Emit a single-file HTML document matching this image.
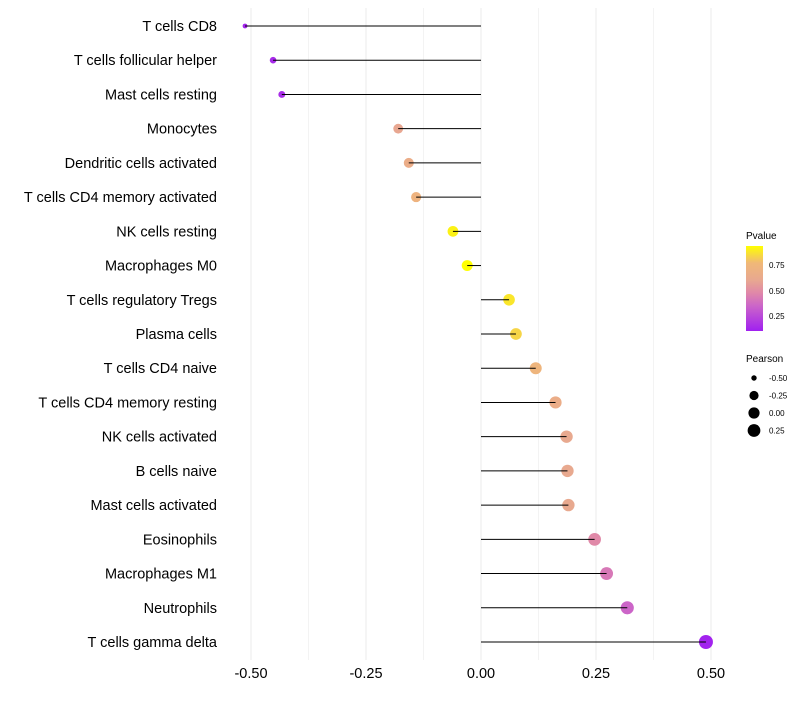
<!DOCTYPE html>
<html><head><meta charset="utf-8"><style>
body{margin:0;background:#fff;font-family:"Liberation Sans",sans-serif}
</style></head><body>
<svg id="c" width="800" height="700" xmlns="http://www.w3.org/2000/svg">
<defs><linearGradient id="pg" x1="0" y1="1" x2="0" y2="0">
<stop offset="0" stop-color="#a020f0"/><stop offset="0.3" stop-color="#cc66c8"/><stop offset="0.45" stop-color="#e088a8"/><stop offset="0.6" stop-color="#e8a890"/><stop offset="0.8" stop-color="#f0b878"/><stop offset="1" stop-color="#ffff00"/>
</linearGradient></defs>
<g id="grid"></g><g id="dots"></g><g id="marks"></g><g id="ylab"></g><g id="xlab"></g>
<g>
<text x="746" y="239" font-size="10" fill="#000">Pvalue</text>
<rect x="746" y="246" width="17" height="85" fill="url(#pg)"/>
<text x="769" y="268" font-size="8">0.75</text><text x="769" y="294" font-size="8">0.50</text><text x="769" y="319" font-size="8">0.25</text>
</g>
<g id="sleg">
<text x="746" y="362" font-size="10" fill="#000">Pearson</text>
</g>
</svg>
<script>
const categories=["T cells CD8","T cells follicular helper","Mast cells resting","Monocytes","Dendritic cells activated","T cells CD4 memory activated","NK cells resting","Macrophages M0","T cells regulatory  Tregs ","Plasma cells","T cells CD4 naive","T cells CD4 memory resting","NK cells activated","B cells naive","Mast cells activated","Eosinophils","Macrophages M1","Neutrophils","T cells gamma delta"];
const pearson=[-0.513,-0.452,-0.433,-0.180,-0.157,-0.141,-0.061,-0.030,0.061,0.076,0.119,0.162,0.186,0.188,0.190,0.247,0.273,0.318,0.489];
const pvalue=[0.12,0.14,0.15,0.60,0.66,0.72,0.91,0.94,0.88,0.84,0.74,0.66,0.61,0.61,0.61,0.48,0.42,0.35,0.11];
const xTicks=[-0.5,-0.25,0,0.25,0.5];
const xTickLabels=["-0.50","-0.25","0.00","0.25","0.50"];
const NS="http://www.w3.org/2000/svg";
const X=v=>481+v*460;
const Y=i=>26+i*(642-26)/18;
const R=v=>2+5*Math.sqrt(Math.max(0,(v+0.52)/1.01));
const stops=[[0,[160,32,240]],[0.3,[204,102,200]],[0.45,[224,136,168]],[0.6,[232,168,144]],[0.8,[240,184,120]],[1,[255,255,0]]];
function col(p){let t=(p-0.10)/(0.94-0.10);t=Math.max(0,Math.min(1,t));for(let k=1;k<stops.length;k++){if(t<=stops[k][0]){const a=stops[k-1],b=stops[k],f=(t-a[0])/(b[0]-a[0]);return 'rgb('+a[1].map((c,j)=>Math.round(c+(b[1][j]-c)*f)).join(',')+')';}}return 'rgb(255,255,0)';}
function mk(tag,at,parent){const e=document.createElementNS(NS,tag);for(const k in at)e.setAttribute(k,at[k]);document.getElementById(parent).appendChild(e);return e;}
for(let v=-0.5;v<=0.5001;v+=0.125){const g=mk('line',{x1:X(v),x2:X(v),y1:8,y2:660,stroke:'#ebebeb','stroke-width':Math.abs((v*4)%1)<1e-6?1:0.6},'grid');

}
categories.forEach((c,i)=>{
const d=mk('circle',{cx:X(pearson[i]),cy:Y(i),r:R(pearson[i]),fill:col(pvalue[i])},'dots');


const l=mk('line',{x1:X(0),x2:X(pearson[i]),y1:Y(i),y2:Y(i),stroke:'#000','stroke-width':1},'marks');


const t=mk('text',{x:217,y:Y(i)+5,'text-anchor':'end','font-size':14.5,fill:'#000'},'ylab');t.textContent=c;


});
xTicks.forEach((v,i)=>{const t=mk('text',{x:X(v),y:678,'text-anchor':'middle','font-size':14.5,fill:'#000'},'xlab');t.textContent=xTickLabels[i];

});
const legVals=[-0.5,-0.25,0,0.25],legLab=["-0.50","-0.25","0.00","0.25"];
legVals.forEach((v,i)=>{const y=378+i*17.5;const c=mk('circle',{cx:754,cy:y,r:R(v),fill:'#000'},'sleg');


const t=mk('text',{x:769,y:y+3,'font-size':8},'sleg');t.textContent=legLab[i];});
</script>
</body></html>
